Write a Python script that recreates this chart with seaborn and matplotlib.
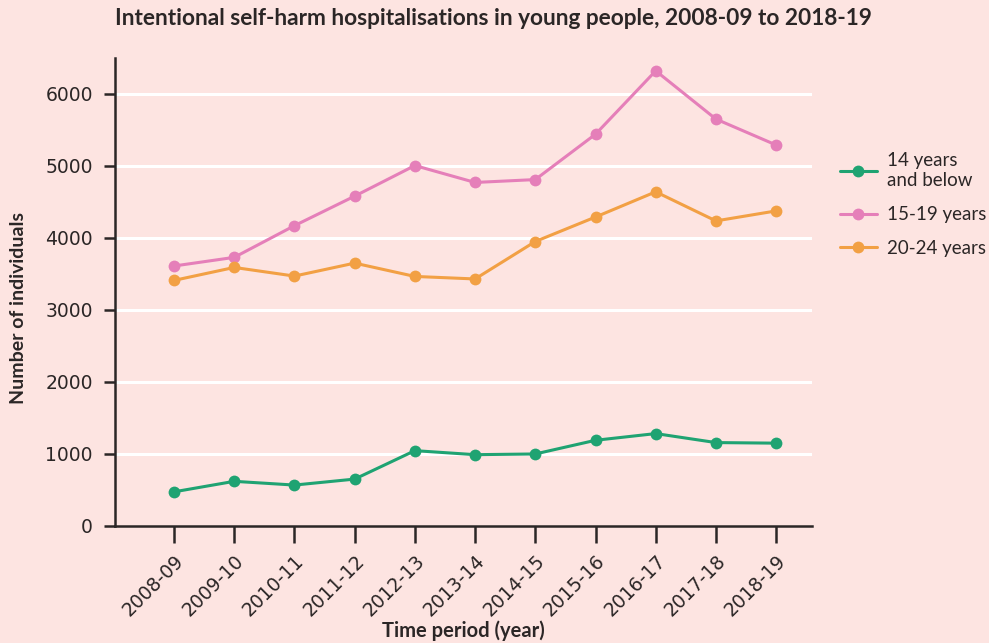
import matplotlib
matplotlib.use("Agg")
import matplotlib.pyplot as plt
import seaborn as sns
import pandas as pd

periods = ["2008-09", "2009-10", "2010-11", "2011-12", "2012-13", "2013-14",
           "2014-15", "2015-16", "2016-17", "2017-18", "2018-19"]
under14 = [474, 620, 568, 651, 1046, 990, 1000, 1190, 1283, 1158, 1150]
age15_19 = [3610, 3730, 4170, 4580, 5005, 4770, 4810, 5440, 6320, 5650, 5290]
age20_24 = [3410, 3590, 3470, 3650, 3465, 3430, 3950, 4290, 4640, 4236, 4375]
series_names = ["14 years\nand below", "15-19 years", "20-24 years"]
colors = ["#1fa372", "#e57fb9", "#f2a044"]

rows = []
for name, vals in zip(series_names, [under14, age15_19, age20_24]):
    for p, v in zip(periods, vals):
        rows.append({"period": p, "value": v, "series": name})
df = pd.DataFrame(rows)

bg = "#fde4e1"
dark = "#2b2626"
sns.set_theme(style="white")
plt.rcParams["font.family"] = ["Lato", "DejaVu Sans"]

fig = plt.figure(figsize=(9.89, 6.43), dpi=100, facecolor=bg)
ax = fig.add_axes([0.1163, 0.182, 0.705, 0.728])
ax.set_facecolor(bg)

for y in range(1000, 7000, 1000):
    ax.axhline(y, color="white", lw=2.2, zorder=0)

sns.lineplot(data=df, x="period", y="value", hue="series", palette=colors,
             marker="o", markersize=8.5, markeredgewidth=0, linewidth=2.2,
             sort=False, ax=ax, zorder=3)

ax.set_xlim(-0.98, 10.6)
ax.set_ylim(0, 6500)
ax.set_yticks(range(0, 7000, 1000))
ax.set_xticks(range(len(periods)))
ax.set_xticklabels(periods, rotation=45, ha="right", rotation_mode="anchor")

for s in ["top", "right"]:
    ax.spines[s].set_visible(False)
for s in ["left", "bottom"]:
    ax.spines[s].set_color(dark)
    ax.spines[s].set_linewidth(1.8)
ax.tick_params(axis="y", direction="out", length=8, width=1.8, color=dark, pad=8, left=True,
               labelsize=13.5, labelcolor=dark, labelfontfamily="DejaVu Sans")
ax.tick_params(axis="x", direction="out", length=12, width=1.8, color=dark, pad=6, bottom=True,
               labelsize=13.5, labelcolor=dark, labelfontfamily="DejaVu Sans")

ax.set_xlabel("Time period (year)", fontsize=14.5, fontweight="bold", color=dark, va="top")
ax.xaxis.set_label_coords(0.5, -0.202)
ax.set_ylabel("Number of individuals", fontsize=14, fontweight="bold", color=dark)
ax.yaxis.set_label_coords(-0.126, 0.466)

fig.text(0.1163, 0.972, "Intentional self-harm hospitalisations in young people, 2008-09 to 2018-19",
         fontsize=16.3, fontweight="bold", color=dark, ha="left", va="center")

leg = ax.legend(loc="upper left", bbox_to_anchor=(1.015, 0.834), frameon=False,
                fontsize=13.5, handlelength=2.0, labelspacing=0.9, handletextpad=0.55)
for t in leg.get_texts():
    t.set_color(dark)
    t.set_linespacing(1.2)

fig.savefig("out.png", dpi=100, facecolor=bg)
